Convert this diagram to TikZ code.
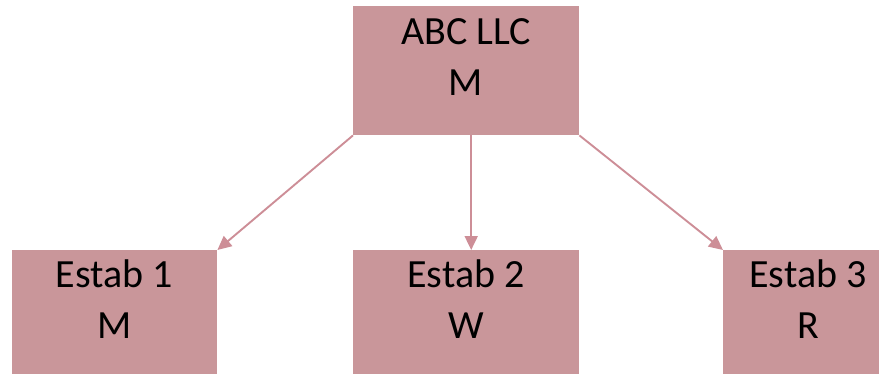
\documentclass[tikz,border=0pt]{standalone}
\usepackage{fontspec}
\setmainfont{Carlito}
\usetikzlibrary{arrows.meta}
\definecolor{boxfill}{RGB}{201,150,154}
\definecolor{arrowc}{RGB}{205,142,151}
\begin{document}
\begin{tikzpicture}[x=1pt,y=-1pt,
  box/.style={rectangle, fill=boxfill, draw=none, inner sep=0pt, anchor=north west},
  lbl/.style={anchor=base, font=\fontsize{40}{48}\selectfont, text=black, inner sep=0pt},
  link/.style={draw=arrowc, line width=1.9pt, -{Triangle[length=14pt,width=13pt]}}]
\useasboundingbox (0,0) rectangle (879,373);
\clip (0,0) rectangle (879,373);
\node[box, minimum width=226pt, minimum height=129pt] (top) at (353,6) {};
\node[box, minimum width=205pt, minimum height=130pt] (e1) at (12,250) {};
\node[box, minimum width=226pt, minimum height=130pt] (e2) at (353,250) {};
\node[box, minimum width=170pt, minimum height=130pt] (e3) at (723,250) {};
\node[lbl] (t1) at (466,44) {ABC LLC};
\node[lbl] (t2) at (466,95) {M};
\node[lbl] (a1) at (114.5,287) {Estab 1};
\node[lbl] (a2) at (114.5,338) {M};
\node[lbl] (b1) at (466,287) {Estab 2};
\node[lbl] (b2) at (466,338) {W};
\node[lbl] (c1) at (808,287) {Estab 3};
\node[lbl] (c2) at (808,338) {R};
\draw[link] (top.south west) -- (e1.north east);
\draw[link] ([xshift=5pt]top.south) -- ([xshift=5pt]e2.north);
\draw[link] (top.south east) -- (e3.north west);
\end{tikzpicture}
\end{document}
